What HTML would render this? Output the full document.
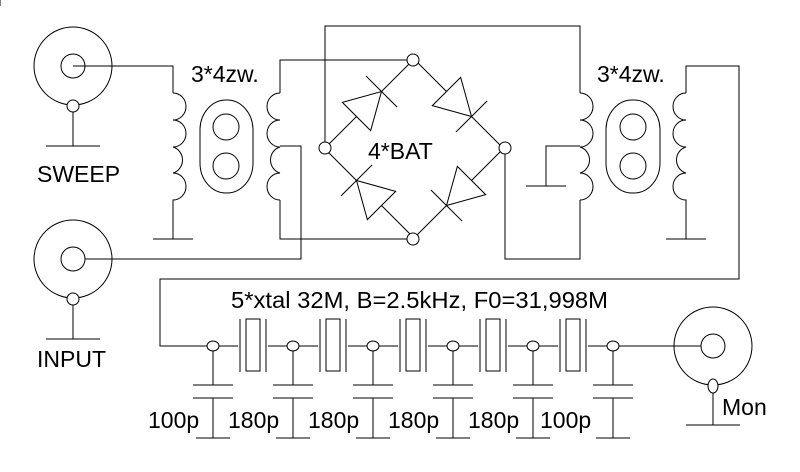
<!DOCTYPE html>
<html><head><meta charset="utf-8"><style>
html,body{margin:0;padding:0;background:#fff;}
svg{display:block;}
text{font-family:"Liberation Sans",sans-serif;fill:#000;}
</style></head><body>
<svg width="800" height="472" viewBox="0 0 800 472" xmlns="http://www.w3.org/2000/svg">
<defs>
<g id="d" fill="none" stroke="#000" stroke-width="1">
<line x1="-60" y1="0" x2="-17" y2="0"/>
<polygon points="-17,-20 -17,20 17,0"/>
<line x1="17" y1="-22" x2="17" y2="22"/>
<line x1="17" y1="0" x2="60" y2="0"/>
</g>
<g id="xt" fill="none" stroke="#000">
<line x1="-13" y1="-27" x2="-13" y2="26"/>
<line x1="13" y1="-27" x2="13" y2="26"/>
<rect x="-7" y="-27" width="14" height="52"/>
</g>
<g id="cap" fill="none" stroke="#000">
<line x1="0" y1="0" x2="0" y2="39"/>
<line x1="-20" y1="39" x2="20" y2="39"/>
<line x1="-20" y1="52" x2="20" y2="52"/>
<line x1="0" y1="52" x2="0" y2="92"/>
<line x1="-17" y1="92" x2="17" y2="92"/>
<ellipse cx="0" cy="0" rx="6" ry="5" fill="#fff"/>
</g>
</defs>
<g fill="none" stroke="#000" stroke-width="1">
<line x1="0" y1="0" x2="0" y2="6"/>
<circle cx="73" cy="66" r="39"/><circle cx="73" cy="66" r="12"/>
<polyline points="73,66 173,66 173,93"/>
<line x1="73" y1="106" x2="73" y2="146"/><line x1="46" y1="146" x2="100" y2="146"/>
<circle cx="73" cy="106" r="6" fill="#fff"/>
<circle cx="73" cy="259" r="39"/><circle cx="73" cy="259" r="12"/>
<polyline points="85,259 301,259 301,146 280,146"/>
<line x1="73" y1="299" x2="73" y2="339"/><line x1="46" y1="339" x2="100" y2="339"/>
<circle cx="73" cy="299" r="6" fill="#fff"/>
<path d="M173,93 a13,13.5 0 0 1 0,27 a13,13.5 0 0 1 0,27 a13,13.5 0 0 1 0,26 a13,13.5 0 0 1 0,27 L173,239"/>
<line x1="153" y1="239" x2="193" y2="239"/>
<rect x="200" y="100" width="53" height="93" rx="26" ry="30"/>
<circle cx="226" cy="127" r="13"/><circle cx="226" cy="166" r="13"/>
<path d="M280,93 a13,13.5 0 0 0 0,27 a13,13.5 0 0 0 0,27 a13,13.5 0 0 0 0,26 a13,13.5 0 0 0 0,27"/>
<polyline points="280,93 280,60 413,60"/>
<polyline points="280,200 280,239 413,239"/>
<polyline points="325,148 325,26 580,26 580,93"/>
<polyline points="505,148 505,259 580,259 580,200"/>
</g>
<use href="#d" transform="translate(369,104) rotate(-45) scale(1.04,1)"/>
<use href="#d" transform="translate(459,104) rotate(45) scale(1.04,1)"/>
<use href="#d" transform="translate(459,193) rotate(135) scale(1.04,1)"/>
<use href="#d" transform="translate(369,193) rotate(-135) scale(1.04,1)"/>
<g fill="#fff" stroke="#000">
<circle cx="413" cy="60" r="6"/><circle cx="325" cy="148" r="6"/>
<circle cx="505" cy="148" r="6"/><circle cx="413" cy="239" r="6"/>
</g>
<g fill="none" stroke="#000">
<path d="M580,93 a13,13.5 0 0 1 0,27 a13,13.5 0 0 1 0,27 a13,13.5 0 0 1 0,26 a13,13.5 0 0 1 0,27"/>
<polyline points="580,146 546,146 546,186"/><line x1="526" y1="186" x2="566" y2="186"/>
<rect x="606" y="100" width="54" height="93" rx="26" ry="30"/>
<circle cx="633" cy="127" r="13"/><circle cx="633" cy="166" r="13"/>
<path d="M686,93 a13,13.5 0 0 0 0,27 a13,13.5 0 0 0 0,27 a13,13.5 0 0 0 0,26 a13,13.5 0 0 0 0,27 L686,239"/>
<line x1="666" y1="239" x2="706" y2="239"/>
<polyline points="686,93 686,66 739,66 739,279 160,279 160,346 701,346"/>
<circle cx="713" cy="346" r="39"/><circle cx="713" cy="346" r="12" fill="#fff"/>
<line x1="713" y1="386" x2="713" y2="425"/><line x1="686" y1="425" x2="740" y2="425"/>
<ellipse cx="713" cy="386" rx="5" ry="7" fill="#fff"/>
</g>
<g fill="#fff">
<rect x="238" y="318" width="30" height="56"/><rect x="318" y="318" width="30" height="56"/>
<rect x="398" y="318" width="30" height="56"/><rect x="478" y="318" width="30" height="56"/>
<rect x="558" y="318" width="30" height="56"/>
</g>
<use href="#xt" transform="translate(253,346)"/>
<use href="#xt" transform="translate(333,346)"/>
<use href="#xt" transform="translate(413,346)"/>
<use href="#xt" transform="translate(493,346)"/>
<use href="#xt" transform="translate(573,346)"/>
<use href="#cap" transform="translate(213,346)"/>
<use href="#cap" transform="translate(293,346)"/>
<use href="#cap" transform="translate(373,346)"/>
<use href="#cap" transform="translate(453,346)"/>
<use href="#cap" transform="translate(533,346)"/>
<use href="#cap" transform="translate(613,346)"/>
<g font-size="23">
<text x="191" y="82">3*4zw.</text>
<text x="597" y="82">3*4zw.</text>
<text x="368" y="159">4*BAT</text>
<text x="37" y="182">SWEEP</text>
<text x="37" y="367">INPUT</text>
<text x="722" y="415">Mon</text>
<text x="231" y="308" textLength="377" lengthAdjust="spacingAndGlyphs">5*xtal 32M, B=2.5kHz, F0=31,998M</text>
<text x="148" y="428">100p</text>
<text x="228" y="428">180p</text>
<text x="308" y="428">180p</text>
<text x="388" y="428">180p</text>
<text x="468" y="428">180p</text>
<text x="540" y="428">100p</text>
</g>
</svg>
</body></html>
